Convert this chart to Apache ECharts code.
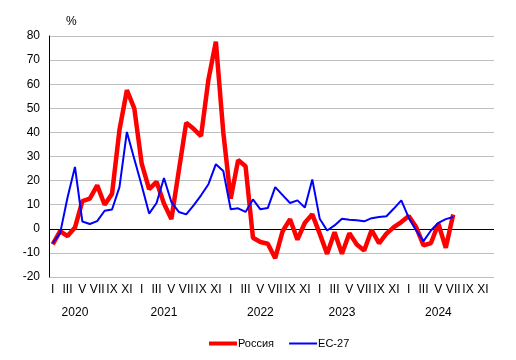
<!DOCTYPE html>
<html>
<head>
<meta charset="utf-8">
<script src="https://cdn.jsdelivr.net/npm/echarts@6/dist/echarts.min.js"></script>
<style>html,body{margin:0;padding:0;background:#fff}#c{width:516px;height:360px}</style>
</head>
<body>
<div id="c"></div>
<script>
var romans = ['I','II','III','IV','V','VI','VII','VIII','IX','X','XI','XII'];
var years = ['2020','2021','2022','2023','2024'];
var yearPos = [3, 15, 28, 39, 52];
var yTicks = [-20, 80, 10];
var russia = [-6.5, -1, -3, 0.5, 11.5, 12.5, 18, 10, 14.5, 41, 57.5, 50,
  27, 16.5, 19.5, 10.5, 4, 24, 44, 41.5, 38.5, 62, 77.6, 40,
  12.5, 28.5, 26, -3.7, -5.5, -6.2, -12.2, -1, 4, -4.5, 2.5, 6,
  -2, -10.4, -1.4, -10.4, -1.8, -6.5, -9, -0.5, -6, -2, 0.7, 2.8,
  5.3, 0.7, -6.9, -5.9, 2.1, -7.9, 5.9];
var eu = [-5.9, -1.8, 13, 25.7, 3, 2, 3.2, 7.5, 8, 17.3, 40.2, 29,
  18, 6.3, 10.7, 21.1, 11.1, 7, 6, 9.7, 13.9, 18.5, 26.8, 24,
  8.1, 8.5, 7, 12.2, 8.1, 8.6, 17.3, 14, 10.7, 11.8, 8.8, 20.5,
  4.2, -0.7, 1.4, 4.2, 3.8, 3.5, 3.1, 4.4, 4.9, 5.2, 8.4, 11.8,
  4.6, -0.7, -5.1, -0.7, 2.5, 4, 4.9];
var seriesNames = ['Россия', 'ЕС-27'];

var months = [];
years.forEach(function () { romans.forEach(function (r) { months.push(r); }); });
var yearLabels = months.map(function () { return ''; });
yearPos.forEach(function (p, i) { yearLabels[p] = years[i]; });

var font = "'Liberation Sans', Arial, sans-serif";
var gridColors = [];
for (var v = yTicks[0]; v <= yTicks[1]; v += yTicks[2]) gridColors.push(v === 0 ? '#000000' : '#c0c0c0');

var chart = echarts.init(document.getElementById('c'));
chart.setOption({
  animation: false,
  backgroundColor: '#ffffff',
  textStyle: { fontFamily: font },
  grid: { left: 49, right: 22, top: 36, bottom: 83 },
  legend: {
    left: 202, top: 333, itemWidth: 28, itemHeight: 12, itemGap: 14,
    itemStyle: { opacity: 0 },
    textStyle: { fontSize: 11, color: '#000', fontFamily: font, padding: [0, 0, 0, -4] },
    data: [
      { name: seriesNames[0], lineStyle: { width: 4, color: '#ff0000' } },
      { name: seriesNames[1], lineStyle: { width: 2, color: '#0000ff' } }
    ]
  },
  xAxis: [{
    type: 'category', data: months, boundaryGap: true,
    axisLine: { show: false }, axisTick: { show: false }, splitLine: { show: false },
    axisLabel: { interval: 1, margin: 7, fontSize: 12, color: '#000', fontFamily: font, hideOverlap: false }
  }, {
    type: 'category', data: yearLabels, boundaryGap: true, position: 'bottom', offset: 23,
    axisLine: { show: false }, axisTick: { show: false }, splitLine: { show: false },
    axisLabel: { interval: 0, margin: 7, fontSize: 12, color: '#000', fontFamily: font }
  }],
  yAxis: {
    type: 'value', min: yTicks[0], max: yTicks[1], interval: yTicks[2],
    name: '%', nameGap: 8,
    nameTextStyle: { fontSize: 12, color: '#000', fontFamily: font, align: 'left', padding: [0, 0, 0, 17] },
    axisLine: { show: true, onZero: false, lineStyle: { color: '#000', width: 1 } },
    axisTick: { show: false },
    axisLabel: { margin: 9, fontSize: 12, color: '#000', fontFamily: font },
    splitLine: { show: true, lineStyle: { color: gridColors, width: 1 } }
  },
  series: [{
    name: seriesNames[0], type: 'line', data: russia, symbol: 'none', showSymbol: false,
    lineStyle: { color: '#ff0000', width: 4.5 }, itemStyle: { color: '#ff0000' }
  }, {
    name: seriesNames[1], type: 'line', data: eu, symbol: 'none', showSymbol: false,
    lineStyle: { color: '#0000ff', width: 2 }, itemStyle: { color: '#0000ff' }
  }]
});
</script>
</body>
</html>
